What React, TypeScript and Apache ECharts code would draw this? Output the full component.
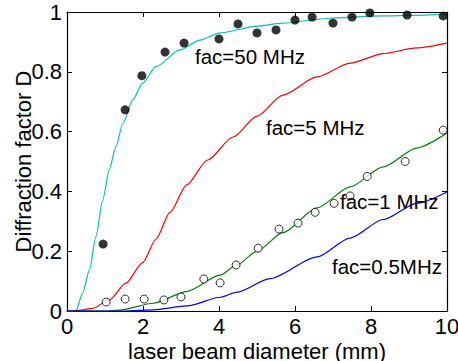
import React, { useEffect, useRef } from "react";
import * as echarts from "echarts";

const xTicks = [0, 2, 4, 6, 8, 10];

const dotsX = [0.95, 1.53, 1.97, 2.58, 3.08, 4.0, 4.5, 5.0, 5.5, 6.0, 6.45, 7.0, 7.5, 7.97, 8.95, 9.9];
const dotsY = [0.224, 0.673, 0.787, 0.866, 0.896, 0.91, 0.96, 0.93, 0.94, 0.973, 0.983, 0.963, 0.983, 0.997, 0.99, 0.987];

const circX = [1.03, 1.53, 2.03, 2.55, 3.0, 3.6, 4.03, 4.45, 5.03, 5.58, 6.08, 6.53, 7.03, 7.45, 7.9, 8.9, 9.9];
const circY = [0.03, 0.04, 0.04, 0.037, 0.047, 0.107, 0.094, 0.154, 0.21, 0.274, 0.294, 0.33, 0.36, 0.385, 0.45, 0.5, 0.605];

const cyanX = [0, 0.2, 0.24, 0.41, 0.59, 0.76, 0.94, 1.11, 1.29, 1.47, 1.73, 1.99, 2.34, 2.97, 3.5, 4.03, 5.0, 5.68, 7.0, 8.3, 10];
const cyanY = [0, 0, 0.003, 0.059, 0.137, 0.248, 0.371, 0.472, 0.55, 0.628, 0.706, 0.762, 0.817, 0.873, 0.906, 0.93, 0.953, 0.963, 0.98, 0.987, 0.992];

const redX = [0, 0.3, 0.68, 1.11, 1.55, 1.99, 2.34, 2.71, 3.15, 3.7, 4.37, 5.0, 5.68, 6.58, 7.45, 8.32, 9.2, 10];
const redY = [0, 0.002, 0.009, 0.037, 0.093, 0.162, 0.24, 0.33, 0.422, 0.505, 0.582, 0.652, 0.722, 0.783, 0.829, 0.861, 0.88, 0.896];

const greenX = [0, 1.0, 1.39, 2.27, 3.15, 4.03, 4.47, 5.0, 5.68, 6.58, 7.45, 8.32, 9.2, 10];
const greenY = [0, 0.0, 0.003, 0.026, 0.065, 0.12, 0.154, 0.2, 0.262, 0.345, 0.415, 0.482, 0.545, 0.595];

const blueX = [0, 1.5, 2.27, 3.16, 4.03, 4.47, 5.34, 6.58, 7.45, 8.32, 9.2, 10];
const blueY = [0, 0, 0.004, 0.017, 0.046, 0.063, 0.108, 0.181, 0.244, 0.306, 0.36, 0.398];

const labels = ["fac=50 MHz", "fac=5 MHz", "fac=1 MHz", "fac=0.5MHz"];

const zip = (xs: number[], ys: number[]) => xs.map((x, i) => [x, ys[i]]);

const FONT = "Liberation Sans, Arial, sans-serif";

export default function App() {
  const ref = useRef<HTMLDivElement>(null);
  useEffect(() => {
    if (!ref.current) return;
    const chart = echarts.init(ref.current, undefined, { renderer: "svg" });
    const axisCommon = {
      min: 0,
      axisLine: { show: true, onZero: false, lineStyle: { color: "#000", width: 1.2 } },
      axisTick: { show: true, inside: true, length: 5, lineStyle: { color: "#000" } },
      splitLine: { show: false },
    };
    const labelStyle = { color: "#000", fontSize: 22, fontFamily: FONT };
    const lineCommon = { type: "line", showSymbol: false, smooth: 0.25, smoothMonotone: "x" };
    chart.setOption({
      animation: false,
      backgroundColor: "#fff",
      grid: { left: 67, right: 11, top: 12, bottom: 50, containLabel: false, outerBoundsMode: "none" },
      xAxis: [
        {
          ...axisCommon,
          type: "value",
          max: 10,
          interval: 2,
          position: "bottom",
          axisLabel: { ...labelStyle, margin: 4, formatter: (v: number) => (xTicks.includes(v) ? String(v) : "") },
          name: "laser beam diameter (mm)",
          nameLocation: "middle",
          nameGap: 29,
          nameMoveOverlap: false,
          nameTextStyle: { ...labelStyle, verticalAlign: "top" },
        },
        {
          ...axisCommon,
          type: "value",
          max: 10,
          interval: 2,
          position: "top",
          axisLabel: { show: false },
        },
      ],
      yAxis: [
        {
          ...axisCommon,
          type: "value",
          max: 1,
          interval: 0.2,
          position: "left",
          axisLabel: { ...labelStyle, margin: 5 },
          name: "Diffraction factor D",
          nameLocation: "middle",
          nameGap: 33,
          nameMoveOverlap: false,
          nameTextStyle: { ...labelStyle },
        },
        {
          ...axisCommon,
          type: "value",
          max: 1,
          interval: 0.2,
          position: "right",
          axisLabel: { show: false },
        },
      ],
      series: [
        { ...lineCommon, data: zip(cyanX, cyanY), lineStyle: { color: "#00bfbf", width: 1.2 } },
        { ...lineCommon, data: zip(redX, redY), lineStyle: { color: "#ff0000", width: 1.2 } },
        { ...lineCommon, data: zip(greenX, greenY), lineStyle: { color: "#008000", width: 1.2 } },
        { ...lineCommon, data: zip(blueX, blueY), lineStyle: { color: "#0000ff", width: 1.2 } },
        { type: "scatter", data: zip(dotsX, dotsY), symbol: "circle", symbolSize: 9, itemStyle: { color: "#000" }, z: 5 },
        { type: "scatter", data: zip(circX, circY), symbol: "circle", symbolSize: 8, itemStyle: { color: "#fff", borderColor: "#000", borderWidth: 1 }, z: 5 },
      ],
      graphic: [
        { type: "text", left: 195, top: 46, style: { text: labels[0], fill: "#000", font: `20.5px ${FONT}` }, z: 10 },
        { type: "text", left: 266, top: 117, style: { text: labels[1], fill: "#000", font: `20.5px ${FONT}` }, z: 10 },
        { type: "text", left: 340, top: 191, style: { text: labels[2], fill: "#000", font: `20.5px ${FONT}` }, z: 10 },
        { type: "text", left: 332, top: 256, style: { text: labels[3], fill: "#000", font: `20.5px ${FONT}` }, z: 10 },
      ],
    });
    return () => chart.dispose();
  }, []);
  return <div ref={ref} style={{ position: "fixed", left: 0, top: 0, width: 458, height: 361 }} />;
}
